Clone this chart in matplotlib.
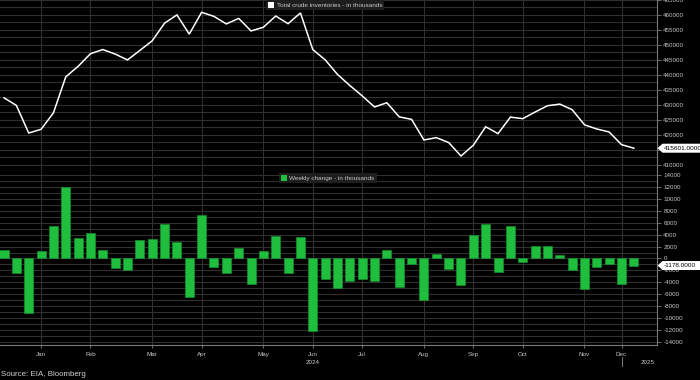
import matplotlib
matplotlib.use("Agg")
import matplotlib.pyplot as plt
from matplotlib.patches import Patch, Polygon
from matplotlib.lines import Line2D
from matplotlib.ticker import MultipleLocator
import matplotlib.transforms as mtrans

plt.rcParams['font.family'] = ['Liberation Sans', 'DejaVu Sans']
plt.rcParams['axes.unicode_minus'] = False

# ---- data (thousand barrels), weekly, week ending Jan 5 .. Dec 27 2024 ----
weeks = ["2024-01-05", "2024-01-12", "2024-01-19", "2024-01-26", "2024-02-02", "2024-02-09",
         "2024-02-16", "2024-02-23", "2024-03-01", "2024-03-08", "2024-03-15", "2024-03-22",
         "2024-03-29", "2024-04-05", "2024-04-12", "2024-04-19", "2024-04-26", "2024-05-03",
         "2024-05-10", "2024-05-17", "2024-05-24", "2024-05-31", "2024-06-07", "2024-06-14",
         "2024-06-21", "2024-06-28", "2024-07-05", "2024-07-12", "2024-07-19", "2024-07-26",
         "2024-08-02", "2024-08-09", "2024-08-16", "2024-08-23", "2024-08-30", "2024-09-06",
         "2024-09-13", "2024-09-20", "2024-09-27", "2024-10-04", "2024-10-11", "2024-10-18",
         "2024-10-25", "2024-11-01", "2024-11-08", "2024-11-15", "2024-11-22", "2024-11-29",
         "2024-12-06", "2024-12-13", "2024-12-20", "2024-12-27"]

total_inventory = [432399, 429878, 420660, 421888, 427356, 439377, 442890, 447089, 448488,
                   446981, 445029, 448191, 451401, 457281, 460024, 453630, 460895, 459533,
                   457025, 458863, 454690, 455920, 459650, 457100, 460690, 448480, 445070,
                   440200, 436500, 433050, 429350, 430750, 426050, 425200, 418340, 419120,
                   417500, 413000, 416600, 422740, 420460, 425960, 425450, 427650, 429750,
                   430300, 428440, 423400, 422000, 421000, 416780, 415601]

weekly_change = [1400, -2500, -9200, 1300, 5500, 12000, 3500, 4250, 1400, -1550, -2000, 3150,
                 3200, 5850, 2750, -6400, 7270, -1350, -2500, 1800, -4200, 1250, 3700, -2500,
                 3600, -12200, -3450, -4870, -3750, -3450, -3700, 1400, -4700, -900, -6900,
                 800, -1700, -4500, 3900, 5850, -2200, 5500, -550, 2150, 2100, 560, -1950,
                 -5050, -1450, -1000, -4250, -1178]

month_labels = ["Jan", "Feb", "Mar", "Apr", "May", "Jun", "Jul", "Aug", "Sep", "Oct", "Nov", "Dec"]
month_tick_week = [3, 7, 12, 16, 21, 25, 29, 34, 38, 42, 47, 50]

x = list(range(len(weeks)))

# ---- style ----
BG = "#000000"
GRID = "#303030"
AXC = "#7a7a7a"
TXT = "#c8c8c8"
GREEN = "#1fbe3e"
GREEN_EDGE = "#158f2c"

W, H = 700, 380
fig = plt.figure(figsize=(7, 3.8), dpi=100, facecolor=BG)

ax_right = 657 / W
ax1 = fig.add_axes([0, (H - 170) / H, ax_right, 170 / H], facecolor=BG)
ax2 = fig.add_axes([0, (H - 345) / H, ax_right, 175 / H], facecolor=BG)

xmin, xmax = -0.324, 52.87

for ax in (ax1, ax2):
    ax.set_xlim(xmin, xmax)
    ax.yaxis.tick_right()
    for s in ("left", "top"):
        ax.spines[s].set_visible(False)
    ax.spines["right"].set_color(AXC)
    ax.spines["bottom"].set_color("#555555")
    ax.spines["right"].set_linewidth(0.8)
    ax.spines["bottom"].set_linewidth(0.8)
    ax.set_xticks(month_tick_week)
    ax.tick_params(axis="y", which="major", direction="out", length=3, width=0.6,
                   color=AXC, labelcolor=TXT, labelsize=4.5, pad=1.5)
    ax.tick_params(axis="y", which="minor", length=0)
    ax.grid(True, which="both", axis="y", color=GRID, linewidth=0.8)
    ax.grid(True, which="major", axis="x", color=GRID, linewidth=0.8)
    ax.set_axisbelow(True)

# top panel
ax1.set_ylim(408333, 465000)
ax1.yaxis.set_major_locator(MultipleLocator(5000))
ax1.yaxis.set_minor_locator(MultipleLocator(2500))
ax1.plot(x, total_inventory, color="white", linewidth=1.1, solid_joinstyle="miter")
ax1.tick_params(axis="x", length=0, labelbottom=False)

# bottom panel
ax2.set_ylim(-14503, 14838)
ax2.yaxis.set_major_locator(MultipleLocator(2000))
ax2.yaxis.set_minor_locator(MultipleLocator(1000))
ax2.bar(x, weekly_change, width=0.73, color=GREEN, edgecolor=GREEN_EDGE, linewidth=0.5, zorder=3)
ax2.set_xticklabels(month_labels)
ax2.tick_params(axis="x", direction="out", length=2.5, width=0.6, color=AXC,
                labelcolor=TXT, labelsize=4.5, pad=2.5)
ax2.spines["bottom"].set_color(AXC)

# legends
leg1 = ax1.legend(handles=[Patch(facecolor="white", edgecolor="none",
                                 label="Total crude inventories - in thousands")],
                  loc="upper center", bbox_to_anchor=(0.495, 1.0), frameon=True,
                  facecolor="#1e1e1e", edgecolor="none", framealpha=1, fontsize=4.6,
                  labelcolor=TXT, handlelength=0.9, handleheight=0.9, handletextpad=0.4,
                  borderpad=0.35, borderaxespad=0, fancybox=False)
leg2 = ax2.legend(handles=[Patch(facecolor=GREEN, edgecolor="none",
                                 label="Weekly change - in thousands")],
                  loc="upper center", bbox_to_anchor=(0.499, 0.983), frameon=True,
                  facecolor="#1e1e1e", edgecolor="none", framealpha=1, fontsize=4.6,
                  labelcolor=TXT, handlelength=0.9, handleheight=0.9, handletextpad=0.4,
                  borderpad=0.35, borderaxespad=0, fancybox=False)

# last-value callouts
fig.canvas.draw()


def callout(ax, value, label):
    ypx = ax.transData.transform((0, value))[1]
    xa = ax_right * W + 0.5
    hh = 4.5
    poly = Polygon([(xa, ypx), (xa + 5, ypx + hh), (W, ypx + hh), (W, ypx - hh), (xa + 5, ypx - hh)],
                   closed=True, facecolor="white", edgecolor="none",
                   transform=mtrans.IdentityTransform(), zorder=10)
    fig.patches.append(poly)
    fig.text((xa + 6) / W, ypx / H, label, fontsize=4.6, color="black",
             ha="left", va="center", zorder=11)


callout(ax1, total_inventory[-1], f"{total_inventory[-1]:.4f}")
callout(ax2, weekly_change[-1], f"{weekly_change[-1]:.4f}")

# year labels and separator
blend = mtrans.blended_transform_factory(ax2.transData, fig.transFigure)
ax2.text(month_tick_week[5], (H - 362) / H, "2024", transform=blend, fontsize=4.5,
         color=TXT, ha="center", va="center", clip_on=False)
ax2.text(52.1, (H - 362) / H, "2025", transform=blend, fontsize=4.5,
         color=TXT, ha="center", va="center", clip_on=False)
ax2.add_line(Line2D([month_tick_week[-1], month_tick_week[-1]], [(H - 357) / H, (H - 366) / H],
                    transform=blend, color=AXC, linewidth=0.7, clip_on=False))

fig.text(1 / W, (H - 374) / H, "Source: EIA, Bloomberg", fontsize=5.7, color="#d0d0d0",
         ha="left", va="center")

fig.savefig("out.png", dpi=100, facecolor=BG)
